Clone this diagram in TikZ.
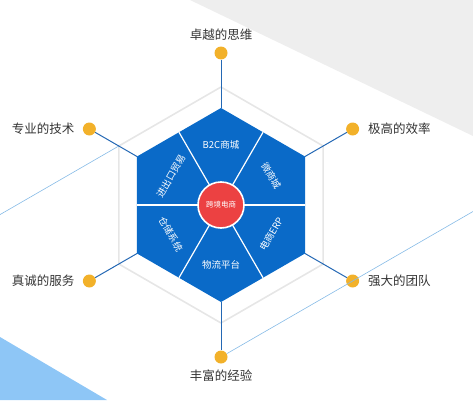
\documentclass[tikz,border=0pt]{standalone}
\usepackage{fontspec}
\newfontfamily\cjk{Noto Sans CJK SC}
\usetikzlibrary{positioning}

\definecolor{hexblue}{HTML}{0A6AC8}
\definecolor{linkblue}{HTML}{2468B4}
\definecolor{paleblue}{HTML}{8EC6F6}
\definecolor{thinblue}{HTML}{86BBE6}
\definecolor{hubred}{HTML}{EC4142}
\definecolor{dotyellow}{HTML}{F2B12A}
\definecolor{bggray}{HTML}{EEEEEE}
\definecolor{ringgray}{HTML}{E6E6E6}

\tikzset{
  dot/.style={circle, fill=dotyellow, minimum size=13pt, inner sep=0pt},
  outlabel/.style={font=\cjk\fontsize{12.5}{14}\selectfont, text=black!80, inner sep=0pt},
  seclabel/.style={font=\cjk\fontsize{9.5}{11}\selectfont, text=white, inner sep=0pt},
  hub/.style={circle, fill=hubred, draw=white, line width=1.6pt, minimum size=46pt, inner sep=0pt,
    font=\cjk\fontsize{7.5}{9}\selectfont, text=white},
  link/.style={linkblue, line width=1pt},
  divider/.style={white, line width=1.2pt},
  ring/.style={ringgray, line width=1.6pt, line join=round},
  faint/.style={thinblue, line width=0.6pt}
}

\begin{document}
\begin{tikzpicture}[x=1pt, y=1pt]

        \useasboundingbox (0,0) rectangle (473,400);

        % background
        \fill[bggray] (190,400) -- (473,400) -- (473,264) -- cycle;
        \fill[paleblue] (0,0) -- (0,63) -- (107,0) -- cycle;

        \def\rin{97}
        \def\rout{118}
        \def\rdot{152}

        \begin{scope}[shift={(221,195)}]

        \coordinate (ringUL) at (150:\rout);
        \draw[ring] (30:\rout) \foreach \a in {90,150,...,330}{ -- (\a:\rout)} -- cycle;

        \foreach \a in {30,90,...,330}
          \coordinate (v\a) at (\a:\rin);

        % dots on the spokes
        \foreach \a in {30,90,...,330}
          \node[dot] (d\a) at (\a:\rdot) {};

        \coordinate (farL) at (-221,-9.6);
        \coordinate (farR) at (252,-6.5);
        \draw[faint] (ringUL) -- (farL);
        \draw[faint] (d270) -- (farR);

        \foreach \a in {30,90,...,330}
          \draw[link] (v\a) -- (d\a);

        \fill[hexblue] (v30) -- (v90) -- (v150) -- (v210) -- (v270) -- (v330) -- cycle;

        \foreach \a in {0,60,...,300}
          \draw[divider] (0,0) -- (\a:84);

        \node[hub] (hub) at (0,0) {跨境电商};

        \node[seclabel] (b2c) at (90:60) {B2C商城};
        \node[seclabel, rotate=-60] (wei) at (30:58) {微商城};
        \node[seclabel, rotate=60] (erp) at (330:58) {电商ERP};
        \node[seclabel] (wuliu) at (270:60) {物流平台};
        \node[seclabel, rotate=-60] (cang) at (210:58) {仓储系统};
        \node[seclabel, rotate=60] (trade) at (150:58) {进出口贸易};

        \end{scope}

        \node[outlabel, above=6pt of d90] {卓越的思维};
        \node[outlabel, left=8pt of d150] {专业的技术};
        \node[outlabel, right=8.5pt of d30] {极高的效率};
        \node[outlabel, left=8pt of d210] {真诚的服务};
        \node[outlabel, right=8.5pt of d330] {强大的团队};
        \node[outlabel, below=6pt of d270] {丰富的经验};

\end{tikzpicture}
\end{document}
